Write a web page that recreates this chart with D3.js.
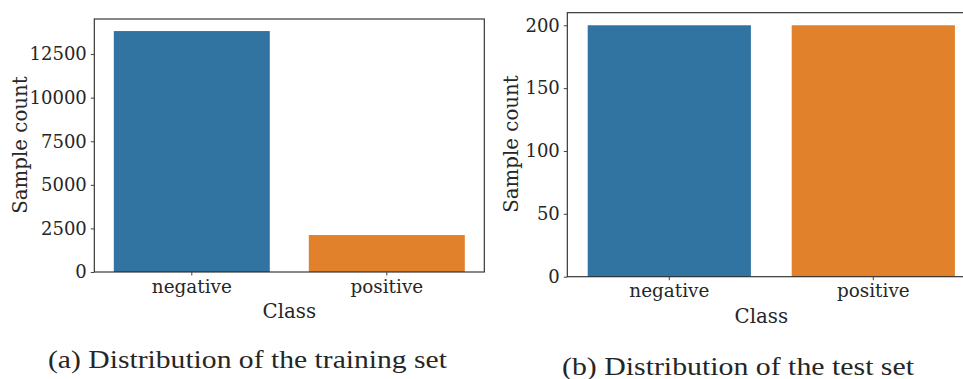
<!DOCTYPE html>
<html>
<head>
<meta charset="utf-8">
<script src="https://cdn.jsdelivr.net/npm/d3@7"></script>
<style>
  html, body { margin: 0; padding: 0; background: #fff; overflow: hidden; }
  svg { display: block; }
  text { fill: #262626; }
</style>
</head>
<body>
<svg id="chart" width="963" height="379"></svg>
<script>
// ---- data ----
const categories = ["negative", "positive"];
const trainCounts = [13820, 2120];
const testCounts = [200, 200];
const trainTicks = [0, 2500, 5000, 7500, 10000, 12500];
const testTicks = [0, 50, 100, 150, 200];
const barColors = ["#3274a1", "#e1812c"];
const captions = ["(a) Distribution of the training set", "(b) Distribution of the test set"];
const xLabel = "Class";
const yLabel = "Sample count";

const svg = d3.select("#chart");
const tickFont = "'DejaVu Serif', serif";
const capFont = "'Liberation Serif', 'Times New Roman', serif";

function panel(cfg) {
  const g = svg.append("g");
  const x = d3.scaleBand().domain(categories).range([cfg.left, cfg.right]).paddingInner(0.2).paddingOuter(0.1);
  const y = d3.scaleLinear().domain([0, d3.max(cfg.values) * 1.05]).range([cfg.bottom, cfg.top]);

  // bars
  g.selectAll("rect.bar").data(cfg.values).enter().append("rect")
    .attr("x", (d, i) => x(categories[i]))
    .attr("width", x.bandwidth())
    .attr("y", d => y(d))
    .attr("height", d => y(0) - y(d))
    .attr("fill", (d, i) => barColors[i]);

  // frame
  g.append("rect")
    .attr("x", cfg.left).attr("y", cfg.top)
    .attr("width", cfg.right - cfg.left).attr("height", cfg.bottom - cfg.top)
    .attr("fill", "none").attr("stroke", "#262626").attr("stroke-width", 1.1);

  // y axis
  const yAxis = d3.axisLeft(y).tickValues(cfg.ticks).tickSize(3.5).tickPadding(4).tickFormat(d3.format("d"));
  const ya = g.append("g").attr("transform", `translate(${cfg.left},0)`).call(yAxis);
  ya.select(".domain").remove();
  ya.selectAll("line").attr("stroke", "#444").attr("stroke-width", 1);
  ya.selectAll("text").attr("font-family", tickFont).attr("font-size", cfg.yTickSize).attr("fill", "#262626");

  // x axis
  const xAxis = d3.axisBottom(x).tickSize(3.5).tickPadding(4);
  const xa = g.append("g").attr("transform", `translate(0,${cfg.bottom})`).call(xAxis);
  xa.select(".domain").remove();
  xa.selectAll("line").attr("stroke", "#444").attr("stroke-width", 1);
  xa.selectAll("text").attr("font-family", tickFont).attr("font-size", cfg.xTickSize).attr("fill", "#262626");

  // axis labels
  g.append("text")
    .attr("x", (cfg.left + cfg.right) / 2 + cfg.xLabelShift)
    .attr("y", cfg.xLabelY)
    .attr("text-anchor", "middle")
    .attr("font-family", tickFont).attr("font-size", cfg.labelSize)
    .text(xLabel);
  g.append("text")
    .attr("transform", `translate(${cfg.yLabelX},${cfg.yLabelY}) rotate(-90)`)
    .attr("text-anchor", "middle")
    .attr("font-family", tickFont).attr("font-size", cfg.labelSize)
    .text(yLabel);

  // caption
  g.append("text")
    .attr("x", cfg.capX).attr("y", cfg.capY)
    .attr("font-family", capFont).attr("font-size", 25)
    .attr("textLength", cfg.capW).attr("lengthAdjust", "spacingAndGlyphs")
    .attr("fill", "#1a1a1a")
    .text(cfg.caption);
}

panel({
  left: 94.3, right: 484.3, top: 19, bottom: 272,
  values: trainCounts, ticks: trainTicks,
  yTickSize: 18, xTickSize: 18.4, labelSize: 19.8,
  xLabelY: 318, xLabelShift: 0,
  yLabelX: 26.5, yLabelY: 145,
  capX: 48, capY: 368, capW: 399, caption: captions[0]
});

panel({
  left: 567.3, right: 975.3, top: 12.7, bottom: 276.7,
  values: testCounts, ticks: testTicks,
  yTickSize: 18, xTickSize: 18.4, labelSize: 19.8,
  xLabelY: 323, xLabelShift: -10,
  yLabelX: 517.5, yLabelY: 144,
  capX: 562, capY: 375, capW: 352, caption: captions[1]
});
</script>
</body>
</html>
